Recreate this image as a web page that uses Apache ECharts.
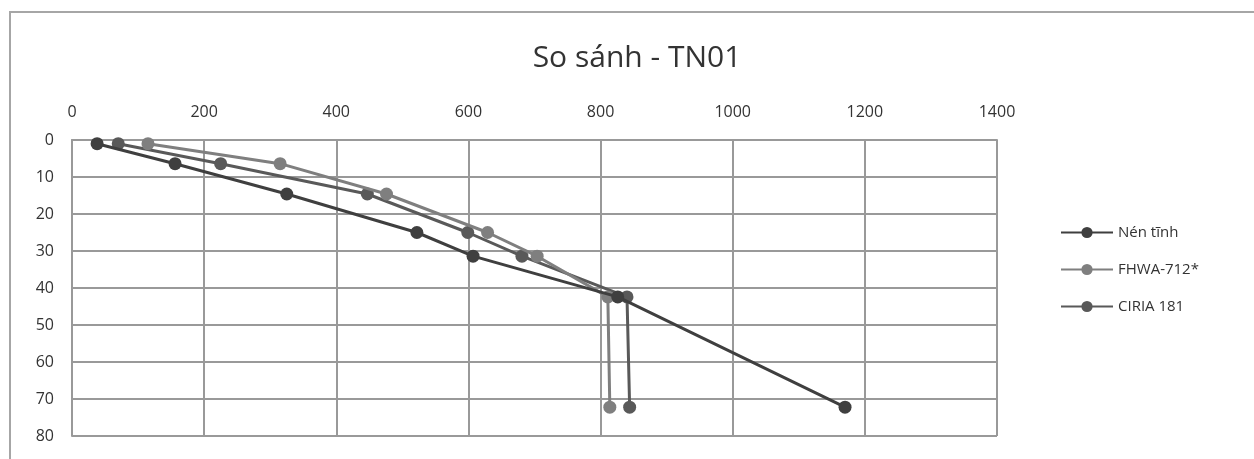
<!DOCTYPE html>
<html>
<head>
<meta charset="utf-8">
<script src="https://cdn.jsdelivr.net/npm/echarts@6/dist/echarts.min.js"></script>
<style>
  html, body { margin: 0; padding: 0; background: #fff; }
  #chart { width: 1254px; height: 459px; }
</style>
</head>
<body>
<div id="chart"></div>
<script>
// Depth (m) of each measured point, shared by all three curves
const depths = [1, 6.4, 14.6, 25, 31.4, 42.4, 72.2];
// Load (kN) for each curve
const nenTinh = [38, 156, 325, 522, 607, 826, 1170];
const fhwa712 = [115, 315, 476, 629, 704, 811, 814];
const ciria181 = [70, 225, 447, 599, 681, 840, 844];
const seriesNames = ['Nén tĩnh', 'FHWA-712*', 'CIRIA 181'];
const titleText = 'So sánh - TN01';

const pairs = (xs) => xs.map((x, i) => [x, depths[i]]);
const colors = ['#3f3f3f', '#7f7f7f', '#595959'];
const font = 'Open Sans, Noto Sans, sans-serif';

const chart = echarts.init(document.getElementById('chart'), null, { renderer: 'canvas' });
chart.setOption({
  backgroundColor: '#ffffff',
  animation: false,
  title: {
    text: titleText,
    left: 632, top: 38, textAlign: 'center',
    textStyle: { fontFamily: font, fontSize: 30, fontWeight: 'normal', color: '#333' }
  },
  graphic: [{
    type: 'polyline', silent: true,
    shape: { points: [[10, 470], [10, 12], [1260, 12]] },
    style: { stroke: '#a6a6a6', lineWidth: 2, fill: null }
  }],
  legend: {
    orient: 'vertical', left: 1055, top: 220, itemGap: 22,
    itemWidth: 52, itemHeight: 14,
    textStyle: { fontFamily: font, fontSize: 15, color: '#333' },
    data: seriesNames
  },
  grid: { left: 72, top: 140, width: 925, height: 296, containLabel: false },
  xAxis: {
    type: 'value', position: 'top', min: 0, max: 1400, interval: 200,
    axisLine: { show: true, lineStyle: { color: '#999', width: 2 } },
    axisTick: { show: false },
    axisLabel: { fontFamily: font, fontSize: 16, color: '#333', margin: 20, formatter: (v) => String(v) },
    splitLine: { show: true, lineStyle: { color: '#999', width: 2 } }
  },
  yAxis: {
    type: 'value', inverse: true, min: 0, max: 80, interval: 10,
    axisLine: { show: true, lineStyle: { color: '#999', width: 2 } },
    axisTick: { show: false },
    axisLabel: { fontFamily: font, fontSize: 16, color: '#333', margin: 18 },
    splitLine: { show: true, lineStyle: { color: '#999', width: 2 } }
  },
  series: [nenTinh, fhwa712, ciria181].map((xs, k) => ({
    name: seriesNames[k], type: 'line', data: pairs(xs),
    symbol: 'circle', symbolSize: 13,
    lineStyle: { color: colors[k], width: 3 },
    itemStyle: { color: colors[k] },
    z: 10 - k
  }))
});
</script>
</body>
</html>
